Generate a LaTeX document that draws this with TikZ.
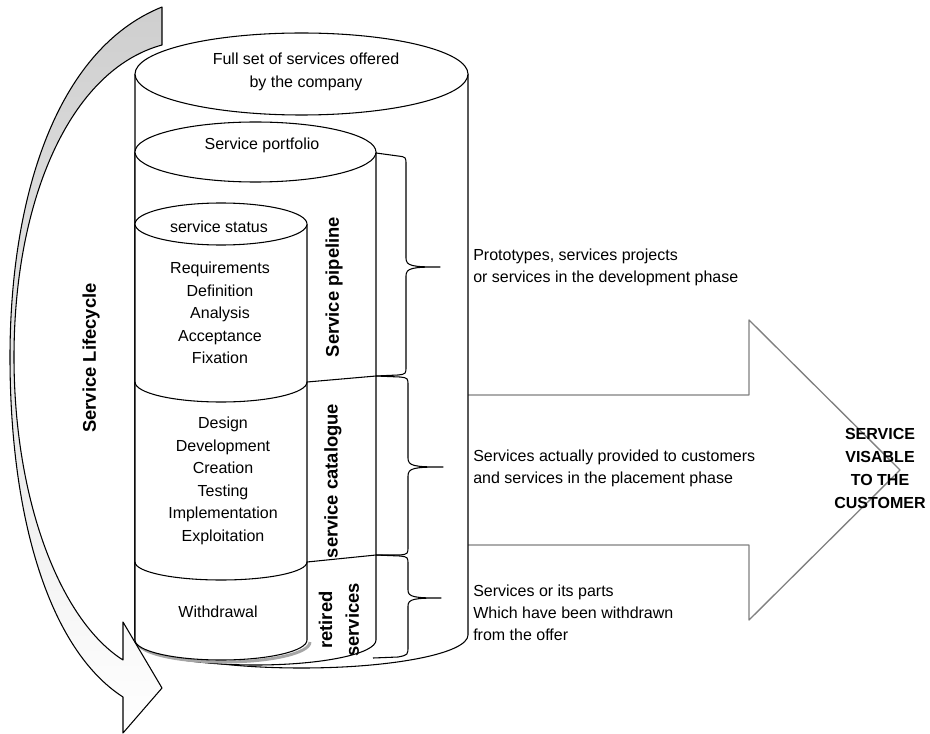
\documentclass[tikz,border=0pt]{standalone}
\usepackage{fontspec}
\setmainfont{Liberation Sans}
\begin{document}
\begin{tikzpicture}[x=0.75pt,y=-0.75pt, line join=round,
  ln/.style={line width=0.8pt, black},
  txt/.style={font=\fontsize{12}{16.9}\selectfont, inner sep=0pt, align=center},
  rtxt/.style={font=\fontsize{12}{16.5}\selectfont, inner sep=0pt, align=left, anchor=west},
  lbl/.style={font=\fontsize{13.8}{20}\selectfont\bfseries, inner sep=0pt, rotate=90, align=center},
  btxt/.style={font=\fontsize{12}{17.25}\selectfont\bfseries, inner sep=0pt, align=center},
  bracestyle/.style={line width=0.8pt, black}
  ]
\useasboundingbox (0,0) rectangle (930,734);

% left lifecycle arrow (shaded body)
\path[top color=gray!38, bottom color=white]
  (162,7) -- (162,45) .. controls (70,70) and (14,200) .. (14,357)
  .. controls (14,500) and (60,620) .. (123,660) -- (123,622) -- (162,688)
  -- (123,733) -- (123,697) .. controls (50,650) and (10,520) .. (10,357)
  .. controls (10,200) and (55,50) .. (162,7) -- cycle;

% right big arrow
\draw[gray, line width=1pt] (468,395) -- (749,395) -- (749,320) -- (900,470)
  -- (749,620) -- (749,545) -- (468,545);

% outer cylinder
\filldraw[ln, fill=white] (135,74) -- (135,635)
  arc[start angle=180, end angle=0, x radius=166.5, y radius=33] -- (468,74);
\filldraw[ln, fill=white] (301.5,74) ellipse [x radius=166.5, y radius=41];

% portfolio cylinder
\filldraw[ln, fill=white] (135,152) -- (135,640)
  arc[start angle=180, end angle=0, x radius=120.5, y radius=25] -- (376,152);
\filldraw[ln, fill=white] (255.5,152) ellipse [x radius=120.5, y radius=30];

% status cylinder shadow
\draw[gray!70, line width=2.2pt] (138,642)
  arc[start angle=180, end angle=0, x radius=86, y radius=20];
% status cylinder
\filldraw[ln, fill=white] (135,224) -- (135,640)
  arc[start angle=180, end angle=0, x radius=86, y radius=20] -- (307,224);
\filldraw[ln, fill=white] (221,224) ellipse [x radius=86, y radius=21];
\draw[ln] (135,382) arc[start angle=180, end angle=0, x radius=86, y radius=20];
\draw[ln] (135,562) arc[start angle=180, end angle=0, x radius=86, y radius=18];

% sloped separators
\draw[ln] (307,382) -- (376,376);
\draw[ln] (307,562) -- (376,555);

% braces
\draw[bracestyle] (376,153) -- (398,156) .. controls (406,157) .. (406,165) -- (406,258)
  .. controls (406,266) and (412,267) .. (440,267)
  .. controls (412,267) and (406,268) .. (406,276) -- (406,366)
  .. controls (406,374) .. (398,375) -- (376,376);
\draw[bracestyle] (376,376) -- (400,377) .. controls (408,378) .. (408,386) -- (408,458)
  .. controls (408,466) and (414,467) .. (443,467)
  .. controls (414,467) and (408,468) .. (408,476) -- (408,546)
  .. controls (408,554) .. (400,555) -- (376,555);
\draw[bracestyle] (376,555) -- (400,556) .. controls (408,557) .. (408,565) -- (408,590)
  .. controls (408,597) and (414,598) .. (441,598)
  .. controls (414,598) and (408,599) .. (408,606) -- (408,646)
  .. controls (408,655) .. (398,657) -- (373,658);

% left arrow outline on top
\draw[ln]
  (162,7) -- (162,45) .. controls (70,70) and (14,200) .. (14,357)
  .. controls (14,500) and (60,620) .. (123,660) -- (123,622) -- (162,688)
  -- (123,733) -- (123,697) .. controls (50,650) and (10,520) .. (10,357)
  .. controls (10,200) and (55,50) .. (162,7) -- cycle;

% texts
\node[txt] (full) at (306,72) {Full set of services offered\\by the company};
\node[txt] (portf) at (262,145) {Service portfolio};
\node[txt] (status) at (219,227) {service status};
\node[txt] (req) at (220,313) {Requirements\\Definition\\Analysis\\Acceptance\\Fixation};
\node[txt] (des) at (223,481) {Design\\Development\\Creation\\Testing\\Implementation\\Exploitation};
\node[txt] (wd) at (218,612) {Withdrawal};

\node[lbl] (pipe) at (334,287) {Service pipeline};
\node[lbl] (cat) at (333,481) {service catalogue};
\node[lbl] (ret) at (339,620) {retired\\services};
\node[lbl] (life) at (91,358) {Service Lifecycle};

\node[rtxt] (t1) at (473,267) {Prototypes, services projects\\or services in the development phase};
\node[rtxt] (t2) at (473,468) {Services actually provided to customers\\and services in the placement phase};
\node[rtxt] (t3) at (473,613) {Services or its parts\\Which have been withdrawn\\from the offer};

\node[btxt] (vis) at (880,468) {SERVICE\\VISABLE\\TO THE\\CUSTOMER};
\end{tikzpicture}
\end{document}
